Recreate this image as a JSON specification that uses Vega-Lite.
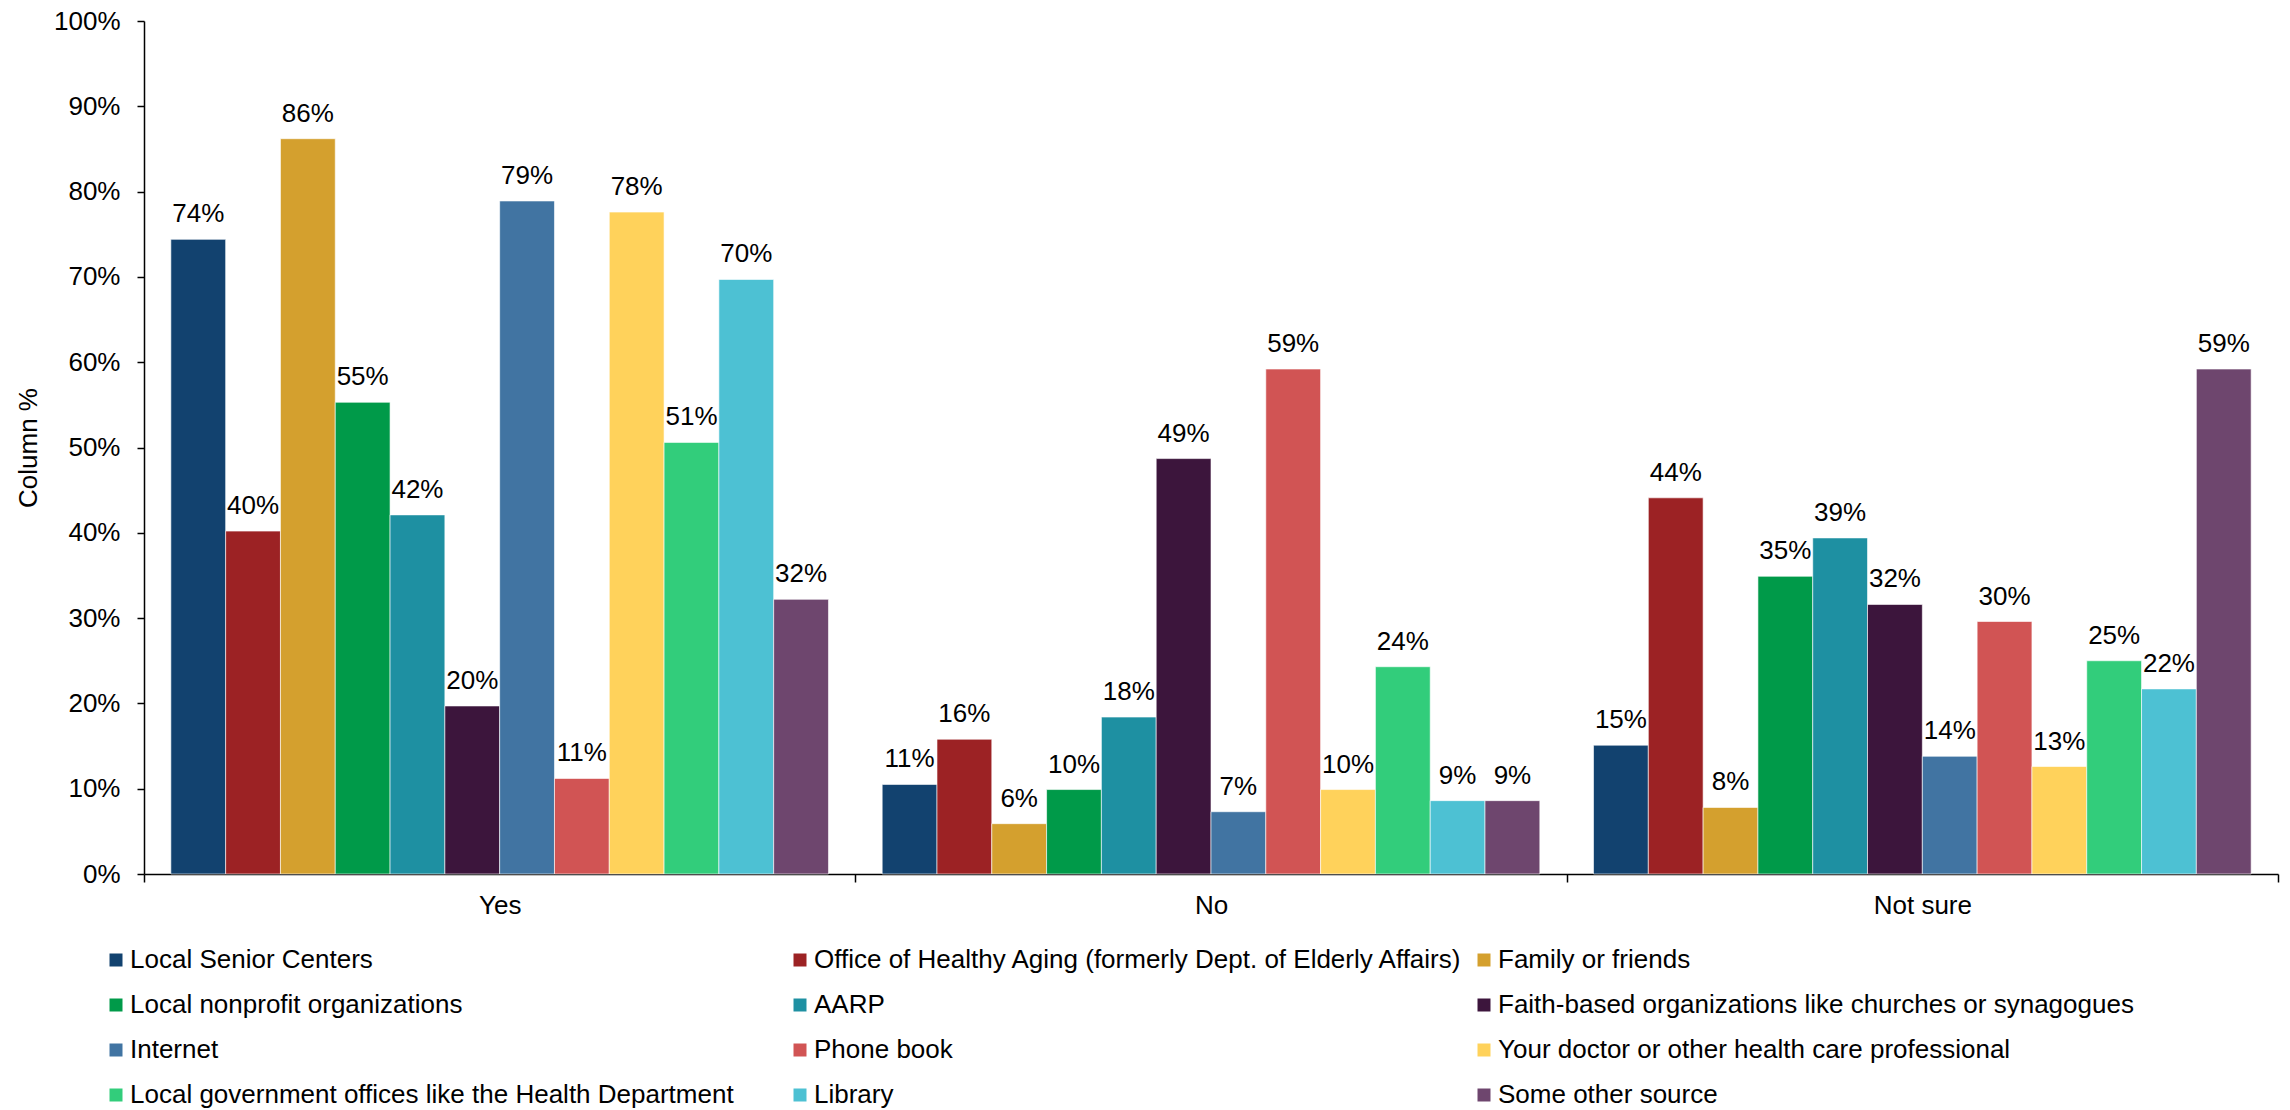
{
  "$schema": "https://vega.github.io/schema/vega-lite/v6.json",
  "width": 2134,
  "height": 853,
  "autosize": {"type": "none"},
  "padding": {"left": 144, "top": 21, "right": 12, "bottom": 236},
  "background": "white",
  "config": {
    "font": "Liberation Sans",
    "view": {"stroke": null},
    "axis": {"grid": false, "domainColor": "black", "tickColor": "black", "labelColor": "black", "titleColor": "black", "labelFont": "Liberation Sans", "titleFont": "Liberation Sans"}
  },
  "data": {
    "values": [
      {"response": "Yes", "source": "Local Senior Centers", "pct": 74.4},
      {"response": "Yes", "source": "Office of Healthy Aging (formerly Dept. of Elderly Affairs)", "pct": 40.2},
      {"response": "Yes", "source": "Family or friends", "pct": 86.2},
      {"response": "Yes", "source": "Local nonprofit organizations", "pct": 55.3},
      {"response": "Yes", "source": "AARP", "pct": 42.1},
      {"response": "Yes", "source": "Faith-based organizations like churches or synagogues", "pct": 19.7},
      {"response": "Yes", "source": "Internet", "pct": 78.9},
      {"response": "Yes", "source": "Phone book", "pct": 11.2},
      {"response": "Yes", "source": "Your doctor or other health care professional", "pct": 77.6},
      {"response": "Yes", "source": "Local government offices like the Health Department", "pct": 50.6},
      {"response": "Yes", "source": "Library", "pct": 69.7},
      {"response": "Yes", "source": "Some other source", "pct": 32.2},
      {"response": "No", "source": "Local Senior Centers", "pct": 10.5},
      {"response": "No", "source": "Office of Healthy Aging (formerly Dept. of Elderly Affairs)", "pct": 15.8},
      {"response": "No", "source": "Family or friends", "pct": 5.9},
      {"response": "No", "source": "Local nonprofit organizations", "pct": 9.9},
      {"response": "No", "source": "AARP", "pct": 18.4},
      {"response": "No", "source": "Faith-based organizations like churches or synagogues", "pct": 48.7},
      {"response": "No", "source": "Internet", "pct": 7.3},
      {"response": "No", "source": "Phone book", "pct": 59.2},
      {"response": "No", "source": "Your doctor or other health care professional", "pct": 9.9},
      {"response": "No", "source": "Local government offices like the Health Department", "pct": 24.3},
      {"response": "No", "source": "Library", "pct": 8.6},
      {"response": "No", "source": "Some other source", "pct": 8.6},
      {"response": "Not sure", "source": "Local Senior Centers", "pct": 15.1},
      {"response": "Not sure", "source": "Office of Healthy Aging (formerly Dept. of Elderly Affairs)", "pct": 44.1},
      {"response": "Not sure", "source": "Family or friends", "pct": 7.8},
      {"response": "Not sure", "source": "Local nonprofit organizations", "pct": 34.9},
      {"response": "Not sure", "source": "AARP", "pct": 39.4},
      {"response": "Not sure", "source": "Faith-based organizations like churches or synagogues", "pct": 31.6},
      {"response": "Not sure", "source": "Internet", "pct": 13.8},
      {"response": "Not sure", "source": "Phone book", "pct": 29.6},
      {"response": "Not sure", "source": "Your doctor or other health care professional", "pct": 12.6},
      {"response": "Not sure", "source": "Local government offices like the Health Department", "pct": 25.0},
      {"response": "Not sure", "source": "Library", "pct": 21.7},
      {"response": "Not sure", "source": "Some other source", "pct": 59.2}
    ]
  },
  "encoding": {
    "x": {
      "field": "response", "type": "nominal", "sort": ["Yes", "No", "Not sure"],
      "scale": {"paddingInner": 0, "paddingOuter": 0},
      "axis": {"title": null, "labelAngle": 0, "labelFontSize": 26, "tickBand": "extent", "tickSize": 8, "tickWidth": 1.5, "domainWidth": 1.5, "labelPadding": 10}
    },
    "xOffset": {
      "field": "source", "type": "nominal",
      "sort": ["Local Senior Centers", "Office of Healthy Aging (formerly Dept. of Elderly Affairs)", "Family or friends", "Local nonprofit organizations", "AARP", "Faith-based organizations like churches or synagogues", "Internet", "Phone book", "Your doctor or other health care professional", "Local government offices like the Health Department", "Library", "Some other source"],
      "scale": {"paddingInner": 0, "paddingOuter": 0.49}
    },
    "y": {
      "field": "pct", "type": "quantitative",
      "scale": {"domain": [0, 100], "nice": false},
      "axis": {"title": "Column %", "titleFontSize": 26, "titleFontWeight": "normal", "titlePadding": 12, "labelFontSize": 26, "values": [0, 10, 20, 30, 40, 50, 60, 70, 80, 90, 100], "labelExpr": "datum.value + '%'", "tickSize": 7, "tickWidth": 1.5, "domainWidth": 1.5, "labelPadding": 17}
    }
  },
  "layer": [
    {
      "mark": {"type": "bar", "stroke": "white", "strokeWidth": 1, "strokeOpacity": 0.6},
      "encoding": {
        "color": {
          "field": "source", "type": "nominal",
          "sort": ["Local Senior Centers", "Office of Healthy Aging (formerly Dept. of Elderly Affairs)", "Family or friends", "Local nonprofit organizations", "AARP", "Faith-based organizations like churches or synagogues", "Internet", "Phone book", "Your doctor or other health care professional", "Local government offices like the Health Department", "Library", "Some other source"],
          "scale": {"range": ["#12426F", "#9C2224", "#D4A02E", "#009A49", "#1E90A2", "#3C153C", "#4174A2", "#D15454", "#FFD25B", "#32CD7B", "#4DC1D3", "#6E466E"]},
          "legend": {
            "title": null, "orient": "none", "legendX": -41, "legendY": 926, "direction": "horizontal", "columns": 3,
            "gridAlign": "all", "labelFontSize": 26, "labelFont": "Liberation Sans", "labelColor": "black", "labelLimit": 0,
            "symbolType": "square", "symbolSize": 169, "symbolStrokeWidth": 0, "labelOffset": 1, "rowPadding": 19, "columnPadding": 7
          }
        }
      }
    },
    {
      "mark": {"type": "text", "baseline": "alphabetic", "dy": -17, "fontSize": 26, "font": "Liberation Sans", "color": "black"},
      "encoding": {
        "text": {"field": "label", "type": "nominal"}
      },
      "transform": [{"calculate": "format(datum.pct, '.0f') + '%'", "as": "label"}]
    }
  ]
}
